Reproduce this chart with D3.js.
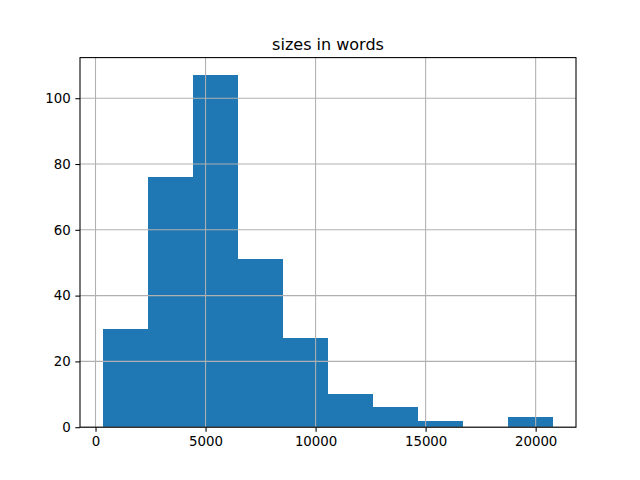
<!DOCTYPE html>
<html>
<head>
<meta charset="utf-8">
<script src="https://cdn.jsdelivr.net/npm/d3@7"></script>
<style>
  body { margin: 0; background: #fff; }
  svg { font-family: "DejaVu Sans", sans-serif; }
</style>
</head>
<body>
<svg id="chart"></svg>
<script>
// histogram data
var binEdges = [319, 2368, 4417, 6466, 8515, 10564, 12613, 14662, 16711, 18760, 20809];
var counts = [30, 76, 107, 51, 27, 10, 6, 2, 0, 3];
var xTicks = [0, 5000, 10000, 15000, 20000];
var yTicks = [0, 20, 40, 60, 80, 100];
var title = "sizes in words";

var width = 640, height = 480;
// note: "top" is taken by window.top, so use plot_* names
var plotL = 80, plotT = 57.6, plotR = 576, plotB = 427.2;

var svg = d3.select("#chart")
    .attr("width", width)
    .attr("height", height);

// matplotlib style 5% margins
var xMin = binEdges[0], xMax = binEdges[binEdges.length - 1];
var pad = (xMax - xMin) * 0.05;
var x = d3.scaleLinear().domain([xMin - pad, xMax + pad]).range([plotL, plotR]);
var y = d3.scaleLinear().domain([0, d3.max(counts) * 1.05]).range([plotB, plotT]);

var bins = counts.map(function(c, i){
    return { x0: binEdges[i], x1: binEdges[i + 1], n: c };
});

svg.append("g")
    .attr("shape-rendering", "crispEdges")
    .selectAll("rect")
    .data(bins.filter(function(d){ return d.n > 0; }))
    .enter()
    .append("rect")
    .attr("x", function(d){ return x(d.x0); })
    .attr("width", function(d){ return x(d.x1) - x(d.x0); })
    .attr("y", function(d){ return y(d.n); })
    .attr("height", function(d){ return y(0) - y(d.n); })
    .attr("fill", "#1f77b4");

// grid on top of bars (pandas hist)
var grid = svg.append("g");
grid.selectAll(".gx")
    .data(xTicks)
    .enter()
    .append("line")
    .attr("x1", function(d){ return x(d); })
    .attr("x2", function(d){ return x(d); })
    .attr("y1", plotT).attr("y2", plotB)
    .attr("stroke", "#b0b0b0")
    .attr("stroke-width", 1.07);
grid.selectAll(".gy")
    .data(yTicks)
    .enter()
    .append("line")
    .attr("y1", function(d){ return y(d); })
    .attr("y2", function(d){ return y(d); })
    .attr("x1", plotL).attr("x2", plotR)
    .attr("stroke", "#b0b0b0")
    .attr("stroke-width", 1.07);

var xAxis = svg.append("g")
    .attr("transform", "translate(0," + plotB + ")")
    .call(d3.axisBottom(x).tickValues(xTicks).tickFormat(d3.format("d"))
        .tickSizeInner(4.67).tickSizeOuter(0).tickPadding(4.67));

var yAxis = svg.append("g")
    .attr("transform", "translate(" + plotL + ",0)")
    .call(d3.axisLeft(y).tickValues(yTicks).tickFormat(d3.format("d"))
        .tickSizeInner(4.67).tickSizeOuter(0).tickPadding(4.67));

[xAxis, yAxis].forEach(function(a){
    a.select(".domain").remove();
    a.selectAll("text")
        .attr("font-size", "13.33px")
        .attr("font-family", "DejaVu Sans")
        .attr("fill", "#000");
    a.selectAll("line").attr("stroke", "#000").attr("stroke-width", 1.07);
});

// spines
svg.append("rect")
    .attr("x", plotL).attr("y", plotT)
    .attr("width", plotR - plotL).attr("height", plotB - plotT)
    .attr("fill", "none")
    .attr("stroke", "#000")
    .attr("stroke-width", 1.07);

svg.append("text")
    .attr("x", (plotL + plotR) / 2)
    .attr("y", plotT - 8)
    .attr("text-anchor", "middle")
    .attr("font-size", "16px")
    .attr("fill", "#000")
    .text(title);
</script>
</body>
</html>
